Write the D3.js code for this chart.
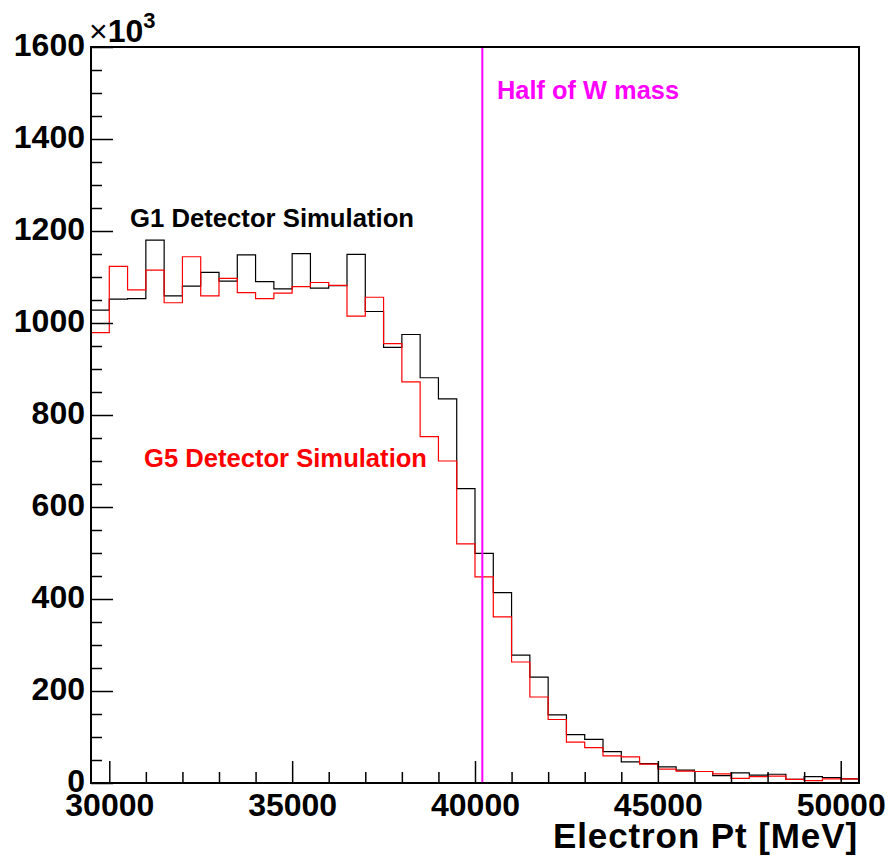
<!DOCTYPE html>
<html><head><meta charset="utf-8">
<script src="https://cdn.jsdelivr.net/npm/d3@7"></script>
<style>body{margin:0;background:#fff}svg{display:block}</style>
</head><body>
<svg id="c" width="894" height="859"></svg>
<script>
// Bins: 42 bins of 500 MeV from 29500 to 50500
const binStart = 29500;
const binWidth = 500;
// Entries per bin, in units of 10^3
const g1Values = [1028,1052,1053,1180,1059,1080,1110,1091,1148,1090,1074,1151,1076,1081,1149,1025,947,975,881,835,640,499,414,278,230,148,105,95,68,46,42,35,28,25,16,22,17,19,8,14,12,9];
const g5Values = [979,1123,1072,1115,1044,1144,1059,1097,1066,1053,1065,1079,1088,1082,1015,1056,955,872,753,700,520,448,361,263,187,138,89,77,59,57,41,30,26,25,20,10,14,15,8,5,9,9];
const xMajorTicks = [30000,35000,40000,45000,50000];
const xMinorTicks = [31000,32000,33000,34000,36000,37000,38000,39000,41000,42000,43000,44000,46000,47000,48000,49000];
const yMajorTicks = [0,200,400,600,800,1000,1200,1400,1600];
const wHalfMass = 40200;
const labels = {g1:"G1 Detector Simulation", g5:"G5 Detector Simulation", w:"Half of W mass", xTitle:"Electron Pt [MeV]"};

const svg = d3.select("#c");
const L=91, R=859, T=47, B=783;
const x = d3.scaleLinear().domain([29500,50500]).range([L,R]);
const y = d3.scaleLinear().domain([0,1600]).range([B,T]);
const font = "'Liberation Sans', Arial, Helvetica, sans-serif";

function stepPath(vals){
  const pts=[[x(binStart), y(0)]];
  vals.forEach((v,i)=>{
    const x0=x(binStart+i*binWidth), x1=x(binStart+(i+1)*binWidth);
    pts.push([x0,y(v)],[x1,y(v)]);
  });
  pts.push([x(binStart+vals.length*binWidth), y(0)]);
  return d3.line()(pts);
}

// histograms
svg.append("path").attr("d",stepPath(g1Values)).attr("fill","none").attr("stroke","#000").attr("stroke-width",1.2);
svg.append("path").attr("d",stepPath(g5Values)).attr("fill","none").attr("stroke","#ff0000").attr("stroke-width",1.2);

// magenta line
svg.append("line").attr("x1",x(wHalfMass)).attr("x2",x(wHalfMass)).attr("y1",T).attr("y2",B)
  .attr("stroke","#ff00ff").attr("stroke-width",2);

// axes
const yMinor = d3.range(0,1601,50).filter(v=>v%200!==0);
svg.append("g").attr("transform",`translate(${L},0)`)
  .call(d3.axisLeft(y).tickValues(yMinor).tickSize(-11).tickFormat(""))
  .call(g=>g.select(".domain").remove())
  .call(g=>g.selectAll("line").attr("stroke-width",1.5));
const yAx = svg.append("g").attr("transform",`translate(${L},0)`)
  .call(d3.axisLeft(y).tickValues(yMajorTicks).tickSize(-22).tickPadding(6).tickFormat(d3.format("d")))
  .call(g=>g.select(".domain").remove())
  .call(g=>g.selectAll("line").attr("stroke-width",1.5));
yAx.selectAll("text").attr("font-family",font).attr("font-weight","bold").attr("font-size",32).attr("fill","#000").attr("dy","0.25em");

svg.append("g").attr("transform",`translate(0,${B})`)
  .call(d3.axisBottom(x).tickValues(xMinorTicks).tickSize(-11).tickFormat(""))
  .call(g=>g.select(".domain").remove())
  .call(g=>g.selectAll("line").attr("stroke-width",1.5));
const xAx = svg.append("g").attr("transform",`translate(0,${B})`)
  .call(d3.axisBottom(x).tickValues(xMajorTicks).tickSize(-22).tickPadding(10).tickFormat(d3.format("d")))
  .call(g=>g.select(".domain").remove())
  .call(g=>g.selectAll("line").attr("stroke-width",1.5));
xAx.selectAll("text").attr("font-family",font).attr("font-weight","bold").attr("font-size",32).attr("fill","#000");

// frame
svg.append("rect").attr("x",L).attr("y",T).attr("width",R-L).attr("height",B-T)
  .attr("fill","none").attr("stroke","#000").attr("stroke-width",2);

// x10^3
const ex = svg.append("text").attr("x",89).attr("y",42).attr("font-family",font).attr("font-size",32).attr("fill","#000");
ex.append("tspan").attr("font-weight","normal").text("×");
ex.append("tspan").attr("font-weight","bold").text("10");
ex.append("tspan").attr("font-weight","bold").attr("font-size",22).attr("dy",-14).text("3");

// labels
svg.append("text").attr("x",497).attr("y",99).attr("font-family",font).attr("font-weight","bold").attr("font-size",25.4).attr("fill","#ff00ff").text(labels.w);
svg.append("text").attr("x",130).attr("y",227).attr("font-family",font).attr("font-weight","bold").attr("font-size",25.7).attr("fill","#000").text(labels.g1);
svg.append("text").attr("x",144).attr("y",467).attr("font-family",font).attr("font-weight","bold").attr("font-size",25.6).attr("fill","#ff0000").text(labels.g5);
svg.append("text").attr("x",858).attr("y",848).attr("text-anchor","end").attr("letter-spacing","0.9px").attr("font-family",font).attr("font-weight","bold").attr("font-size",35).attr("fill","#000").text(labels.xTitle);
</script>
</body></html>
